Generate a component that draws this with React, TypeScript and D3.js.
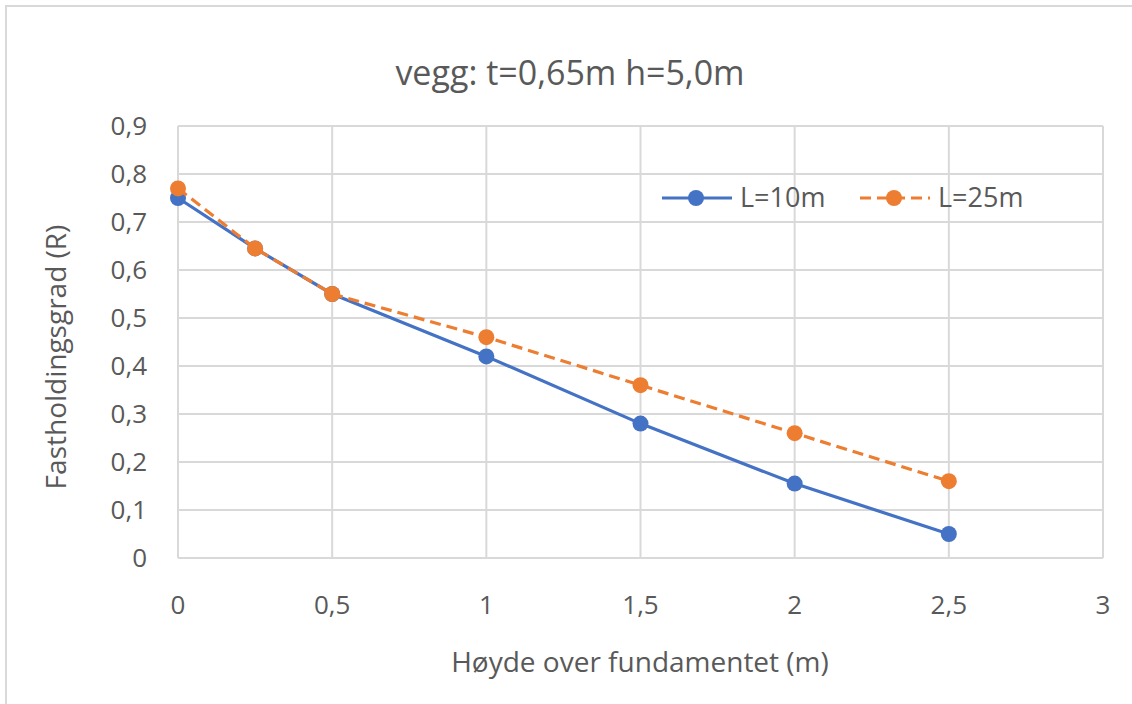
import React from "react";
import * as d3 from "d3";

const heights = [0, 0.25, 0.5, 1, 1.5, 2, 2.5];
const seriesL10 = [0.75, 0.645, 0.55, 0.42, 0.28, 0.155, 0.05];
const seriesL25 = [0.77, 0.645, 0.55, 0.46, 0.36, 0.26, 0.16];
const seriesNames = ["L=10m", "L=25m"];
const xTicks = [0, 0.5, 1, 1.5, 2, 2.5, 3];
const yTicks = [0, 0.1, 0.2, 0.3, 0.4, 0.5, 0.6, 0.7, 0.8, 0.9];

const W = 1132;
const H = 704;
const FONT = "'Open Sans', 'Noto Sans', sans-serif";
const TEXT = "#595959";
const GRID = "#D9D9D9";
const BLUE = "#4472C4";
const ORANGE = "#ED7D31";

const fmt = (v: number) => String(+v.toFixed(2)).replace(".", ",");

export default function App() {
  const x = d3.scaleLinear().domain([0, 3]).range([178, 1103]);
  const y = d3.scaleLinear().domain([0, 0.9]).range([558, 126]);

  const line = d3
    .line<[number, number]>()
    .x((d) => x(d[0]))
    .y((d) => y(d[1]));

  const series = [
    { name: seriesNames[0], values: seriesL10, color: BLUE, dash: undefined as string | undefined },
    { name: seriesNames[1], values: seriesL25, color: ORANGE, dash: "11,6" },
  ];

  const legend = [
    { x0: 662, name: seriesNames[0], color: BLUE, dash: undefined as string | undefined },
    { x0: 860, name: seriesNames[1], color: ORANGE, dash: "11,6" },
  ];

  return (
    <svg
      width={W}
      height={H}
      style={{ position: "absolute", left: 0, top: 0, background: "#fff" }}
      fontFamily={FONT}
    >
      <rect x={0} y={0} width={W} height={H} fill="#fff" />
      <rect x={6} y={6} width={W + 20} height={H + 20} fill="#fff" stroke={GRID} strokeWidth={2} />

      <text x={570} y={73} dy="0.35em" textAnchor="middle" fontSize={34} fill={TEXT}>
        vegg: t=0,65m h=5,0m
      </text>

      {/* gridlines */}
      {yTicks.map((t) => (
        <line key={"gy" + t} x1={x(0)} x2={x(3)} y1={y(t)} y2={y(t)} stroke={GRID} strokeWidth={2} />
      ))}
      {xTicks.map((t) => (
        <line key={"gx" + t} x1={x(t)} x2={x(t)} y1={y(0)} y2={y(0.9)} stroke={GRID} strokeWidth={2} />
      ))}

      {/* tick labels */}
      {yTicks.map((t) => (
        <text key={"ly" + t} x={147} y={y(t)} dy="0.35em" textAnchor="end" fontSize={26} fill={TEXT}>
          {fmt(t)}
        </text>
      ))}
      {xTicks.map((t) => (
        <text key={"lx" + t} x={x(t)} y={605} dy="0.35em" textAnchor="middle" fontSize={26} fill={TEXT}>
          {fmt(t)}
        </text>
      ))}

      <text x={640} y={662} dy="0.35em" textAnchor="middle" fontSize={28} fill={TEXT}>
        Høyde over fundamentet (m)
      </text>
      <text
        transform={`translate(56,357) rotate(-90)`}
        dy="0.35em"
        textAnchor="middle"
        fontSize={28}
        fill={TEXT}
      >
        Fastholdingsgrad (R)
      </text>

      {/* series */}
      {series.map((s) => {
        const pts = heights.map((h, i) => [h, s.values[i]] as [number, number]);
        return (
          <g key={s.name}>
            <path
              d={line(pts) || ""}
              fill="none"
              stroke={s.color}
              strokeWidth={3.2}
              strokeDasharray={s.dash}
              strokeLinejoin="round"
            />
            {pts.map((p, i) => (
              <circle key={i} cx={x(p[0])} cy={y(p[1])} r={8} fill={s.color} />
            ))}
          </g>
        );
      })}

      {/* legend */}
      {legend.map((l) => (
        <g key={l.name}>
          <line
            x1={l.x0}
            x2={l.x0 + 70}
            y1={198}
            y2={198}
            stroke={l.color}
            strokeWidth={3.2}
            strokeDasharray={l.dash}
          />
          <circle cx={l.x0 + 34} cy={198} r={8} fill={l.color} />
          <text x={l.x0 + 78} y={198} dy="0.35em" fontSize={27} fill={TEXT}>
            {l.name}
          </text>
        </g>
      ))}
    </svg>
  );
}
